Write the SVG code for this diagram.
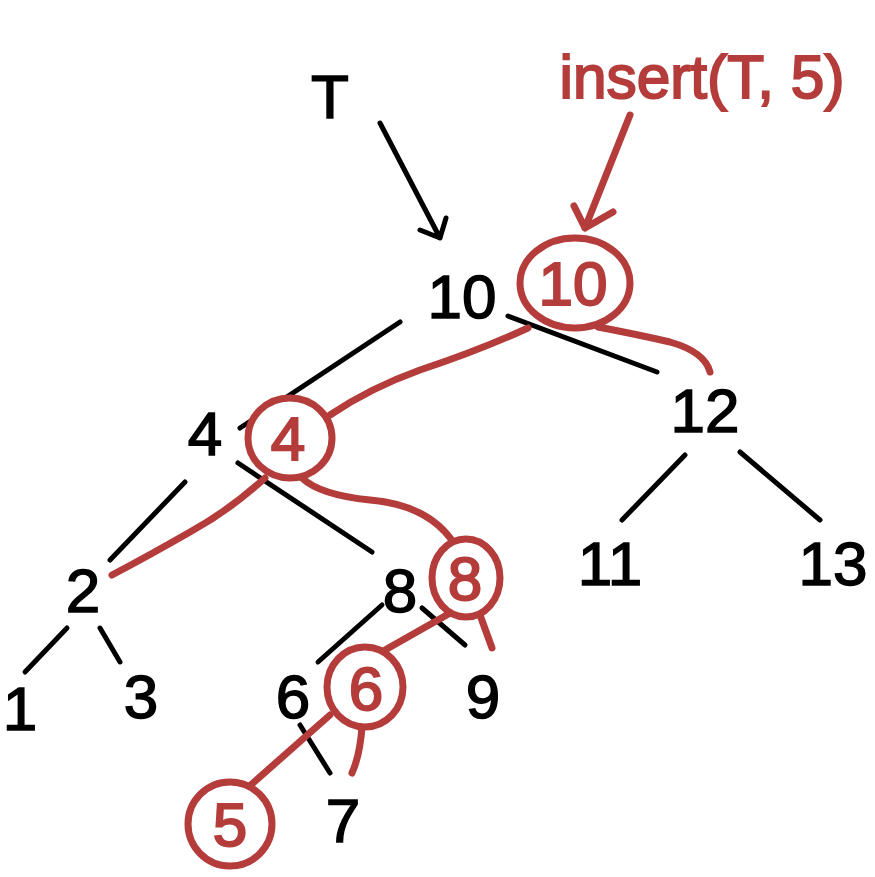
<svg xmlns="http://www.w3.org/2000/svg" width="875" height="877" viewBox="0 0 875 877">
<style>
.k{fill:none;stroke:#000;stroke-width:5;stroke-linecap:round;stroke-linejoin:round}
.r{fill:none;stroke:#b43c3a;stroke-width:7;stroke-linecap:round;stroke-linejoin:round}
.c{fill:#fff;stroke:#b43c3a;stroke-width:7}
.tk{font-family:"Liberation Sans",Arial,sans-serif;font-size:62px;fill:#000;stroke:#000;stroke-width:1.5;text-anchor:middle}
.tr{font-family:"Liberation Sans",Arial,sans-serif;font-size:62px;fill:#b43c3a;stroke:#b43c3a;stroke-width:2;text-anchor:middle}
</style>
<rect width="875" height="877" fill="#fff"/>
<g id="connectors">
<path class="k" d="M380,123 L440,238 M420,230 L440,238 L446,218"/>
<path class="k" d="M400,322 L240,428"/>
<path class="k" d="M508,316 L657,372"/>
<path class="k" d="M185,482 L110,560"/>
<path class="k" d="M238,463 L372,552"/>
<path class="k" d="M685,455 L622,520"/>
<path class="k" d="M740,452 L820,520"/>
<path class="k" d="M67,628 L25,672"/>
<path class="k" d="M100,628 L120,662"/>
<path class="k" d="M382,605 L318,662"/>
<path class="k" d="M422,608 L465,645"/>
<path class="k" d="M300,725 L330,773"/>
<path class="r" d="M630,115 L585,228 M574,206 L585,228 L613,212"/>
<path class="r" d="M528,328 Q480,350 420,370 Q370,388 330,415"/>
<path class="r" d="M598,327 Q640,335 670,342 Q705,352 710,372"/>
<path class="r" d="M265,478 Q230,510 190,532 Q150,555 112,575"/>
<path class="r" d="M302,478 Q320,495 370,500 Q430,505 455,545"/>
<path class="r" d="M452,612 L385,650"/>
<path class="r" d="M480,615 L492,648"/>
<path class="r" d="M330,715 L245,790"/>
<path class="r" d="M362,727 Q360,755 352,773"/>
</g>
<g id="T"><text class="tk" x="330" y="118">T</text></g>
<g id="insert"><text class="tr" x="702" y="98" textLength="285" lengthAdjust="spacingAndGlyphs">insert(T, 5)</text></g>
<g id="n10"><text class="tk" x="462" y="318">10</text></g>
<g id="n4"><text class="tk" x="205" y="455">4</text></g>
<g id="n12"><text class="tk" x="705" y="432">12</text></g>
<g id="n2"><text class="tk" x="83" y="612">2</text></g>
<g id="n8"><text class="tk" x="400" y="612">8</text></g>
<g id="n11"><text class="tk" x="610" y="585">11</text></g>
<g id="n13"><text class="tk" x="833" y="585">13</text></g>
<g id="n1"><text class="tk" x="20" y="730">1</text></g>
<g id="n3"><text class="tk" x="141" y="718">3</text></g>
<g id="n6"><text class="tk" x="293" y="718">6</text></g>
<g id="n9"><text class="tk" x="483" y="718">9</text></g>
<g id="n7"><text class="tk" x="343" y="842">7</text></g>
<g id="r10"><ellipse class="c" cx="575" cy="283" rx="55" ry="45"/><text class="tr" x="573" y="305">10</text></g>
<g id="r4"><ellipse class="c" cx="290" cy="438" rx="42" ry="40"/><text class="tr" x="288" y="460">4</text></g>
<g id="r8"><ellipse class="c" cx="466" cy="578" rx="34" ry="39"/><text class="tr" x="465" y="600">8</text></g>
<g id="r6"><ellipse class="c" cx="365" cy="687" rx="38" ry="40"/><text class="tr" x="366" y="710">6</text></g>
<g id="r5"><ellipse class="c" cx="230" cy="824" rx="42" ry="42"/><text class="tr" x="230" y="846">5</text></g>
</svg>
